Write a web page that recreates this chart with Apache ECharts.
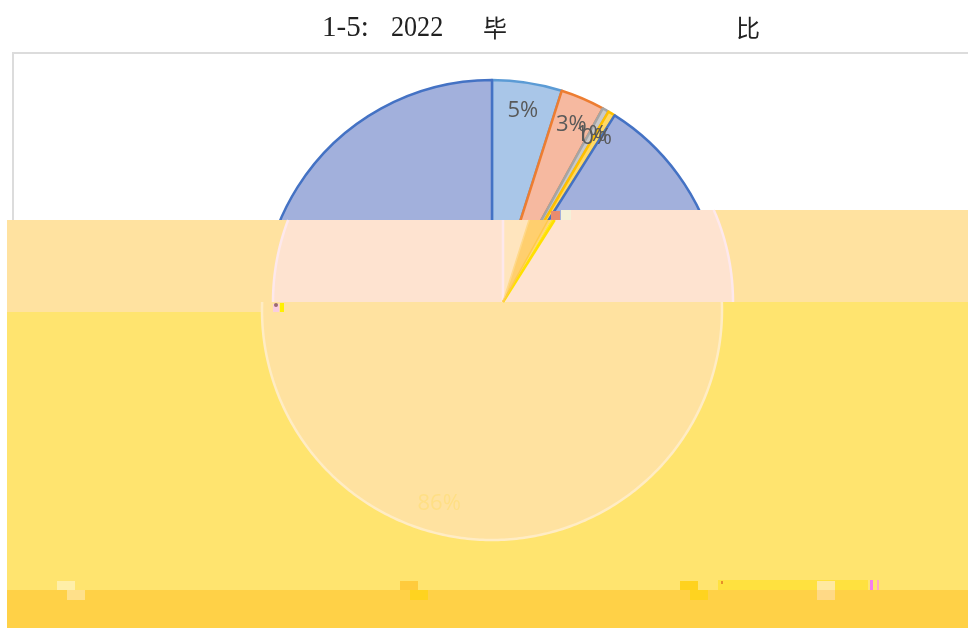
<!DOCTYPE html>
<html>
<head>
<meta charset="utf-8">
<style>html,body{margin:0;padding:0;background:#fff}#c{width:968px;height:628px}</style>
<script src="https://cdn.jsdelivr.net/npm/echarts@6/dist/echarts.min.js"></script>
</head>
<body>
<div id="c"></div>
<script>
const sliceNames = ['a', 'b', 'c', 'd', 'e'];
const sliceValues = [4.9, 3.1, 0.45, 0.5, 91.05];
const sliceLabels = ['5%', '3%', '1%', '0%', '86%'];

const fills = ['#A9C6E8', '#F6B9A0', '#C9C9C9', '#FFD966', '#A2B0DC'];
const strokes = ['#5B9BD5', '#ED7D31', '#A5A5A5', '#FFC000', '#4472C4'];
const washFills = ['#FFE5BE', '#FFCF6E', '#FFD27A', '#FFE62A', '#FEE3D0'];

const CX = 492, CY = 310, R = 230;
const BX = 503, BY = 302;
const TEAR = 571;
const total = sliceValues.reduce((a, b) => a + b, 0);
const bounds = [0];
sliceValues.forEach(v => bounds.push(bounds[bounds.length - 1] + v / total * Math.PI * 2));

function polar(cx, cy, r, a) { return [cx + r * Math.sin(a), cy - r * Math.cos(a)]; }
// points along a circle between two heights, sampled evenly by angle
function arcPts(cx, cy, r, y0, y1, side) {
  const pts = [];
  const n = 120;
  const a0 = Math.acos((cy - y0) / r), a1 = Math.acos((cy - y1) / r);
  for (let i = 0; i <= n; i++) {
    const a = a0 + (a1 - a0) * i / n;
    pts.push([cx + side * r * Math.sin(a), cy - r * Math.cos(a)]);
  }
  return pts;
}
function rect(x, y, w, h, fill, z) {
  return { type: 'rect', shape: { x, y, width: w, height: h }, style: { fill }, z: z || 20, silent: true };
}
function poly(points, fill, z) {
  return { type: 'polygon', shape: { points }, style: { fill }, z: z || 20, silent: true };
}
function line(points, stroke, width, z) {
  return { type: 'polyline', shape: { points }, style: { stroke, lineWidth: width, fill: null }, z: z || 24, silent: true };
}
function title(text, x, scale) {
  return {
    type: 'text', x, y: 28, scaleX: scale, z: 30, silent: true,
    style: { text, fill: '#222', font: '29px "Liberation Serif", "Noto Sans CJK SC", serif', textVerticalAlign: 'middle', textAlign: 'left' }
  };
}

const els = [];
// frame of the plot area
els.push(line([[13, 220], [13, 53], [968, 53]], '#DCDCDC', 2, 1));
// title
els.push(title('1-5:', 322, 1), title('2022', 391, 0.9));
els.push({ type: 'text', x: 483, y: 28, z: 30, silent: true, style: { text: '毕', fill: '#222', font: '24px "Noto Sans CJK SC", sans-serif', textVerticalAlign: 'middle' } });
els.push({ type: 'text', x: 736, y: 28, z: 30, silent: true, style: { text: '比', fill: '#222', font: '24px "Noto Sans CJK SC", sans-serif', textVerticalAlign: 'middle' } });

// washed-out regions
els.push(rect(7, 302, 961, 288, '#FFE46F'));
els.push(rect(7, 590, 961, 38, '#FFD147'));
els.push(rect(7, 220, TEAR - 7, 92, '#FFE2A0', 21));
els.push(rect(TEAR, 210, 968 - TEAR, 92, '#FFE2A0', 21));

// lower disc
const low = arcPts(CX, CY, R, 302, CY + R, 1).concat(arcPts(CX, CY, R, CY + R, 302, -1));
els.push(poly(low, '#FFE2A0', 22));
els.push(line(low, '#FFECC4', 2.5, 23));

// band copy of the pie
const leftArc = arcPts(BX, BY, R, 302, 220, -1);
const rightArc = arcPts(BX, BY, R, 210, 302, 1);
els.push(poly(leftArc.concat([[TEAR, 220], [TEAR, 302]]), washFills[4], 25));
els.push(poly([[TEAR, 302], [TEAR, 210]].concat(rightArc), washFills[4], 25));
els.push(line(leftArc, '#FDE8EC', 2.5, 26));
els.push(line(rightArc, '#FDE8EC', 2.5, 26));
function toBand(a) { return [BX + Math.tan(a) * (BY - 220), 220]; }
for (let i = 0; i < 4; i++) {
  els.push(poly([[BX, BY], toBand(bounds[i]), toBand(bounds[i + 1])], washFills[i], 27));
}
els.push(line([[BX, BY], toBand(0)], '#FDE8EC', 2.5, 28));
els.push(line([[BX, BY], toBand(bounds[4])], '#FFE000', 2.5, 28));
els.push(line([[BX, BY], toBand(bounds[1])], '#FFD98A', 1.5, 28));
els.push(line([[BX, BY], toBand(bounds[2])], '#FFC94A', 1.5, 28));

// small debris
els.push(rect(551, 211, 9, 9, '#E98C6E', 29), rect(561, 210, 10, 10, '#F4F0D8', 29));
els.push(rect(273, 304, 6, 8, '#F9CDE0', 29), rect(280, 303, 4, 9, '#FFF000', 29));
els.push({ type: 'circle', shape: { cx: 276, cy: 305, r: 2 }, style: { fill: '#9A6A70' }, z: 30, silent: true });

// legend remnants
els.push(rect(57, 581, 18, 9, '#FFEFA8', 29), rect(67, 590, 18, 10, '#FFE08A', 29));
els.push(rect(400, 581, 18, 9, '#FFCB3D', 29), rect(410, 590, 18, 10, '#FFD31F', 29));
els.push(rect(680, 581, 18, 9, '#FFD21E', 29), rect(690, 590, 18, 10, '#FFD31F', 29));
els.push(rect(817, 581, 18, 9, '#FFE9A0', 29), rect(817, 590, 18, 10, '#FFD986', 29));
els.push(rect(718, 580, 150, 10, '#FFE13F', 28));
els.push(rect(870, 580, 3, 10, '#F57CF0', 29), rect(877, 580, 2, 10, '#FFA8C8', 29));
els.push(rect(721, 581, 2, 3, '#E5902A', 29));

// faded label of the largest slice
const bigMid = (bounds[4] + bounds[5]) / 2;
const bigPos = polar(CX, CY, R * 0.875, bigMid);
els.push({
  type: 'text', x: bigPos[0] + 3, y: bigPos[1], z: 30, silent: true,
  style: { text: sliceLabels[4], fill: '#FFDF85', font: '22px "Open Sans", sans-serif', textAlign: 'center', textVerticalAlign: 'middle' }
});

const chart = echarts.init(document.getElementById('c'), null, { renderer: 'canvas' });
chart.setOption({
  animation: false,
  backgroundColor: '#fff',
  series: [{
    type: 'pie',
    center: [CX, CY],
    radius: R,
    startAngle: 90,
    clockwise: true,
    minAngle: 0,
    avoidLabelOverlap: false,
    silent: true,
    label: {
      show: true, position: 'inside', color: '#595959', fontSize: 22,
      fontFamily: '"Open Sans", sans-serif',
      formatter: p => sliceLabels[p.dataIndex]
    },
    labelLine: { show: false },
    labelLayout: p => {
      const m = (bounds[p.dataIndex] + bounds[p.dataIndex + 1]) / 2;
      const pos = polar(CX, CY, R * 0.875, m);
      return { x: pos[0], y: pos[1], align: 'center', verticalAlign: 'middle' };
    },
    data: sliceValues.map((v, i) => ({
      name: sliceNames[i],
      value: v,
      itemStyle: { color: fills[i], borderColor: strokes[i], borderWidth: 2.5 },
      label: { show: i < 4 }
    }))
  }],
  graphic: { elements: els }
});
</script>
</body>
</html>
